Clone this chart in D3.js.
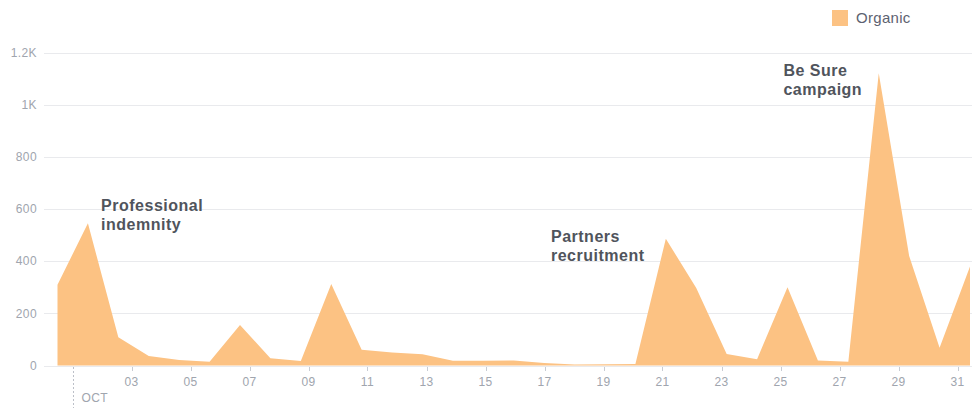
<!DOCTYPE html>
<html><head><meta charset="utf-8">
<script src="https://cdn.jsdelivr.net/npm/d3@7"></script>
<style>
html,body{margin:0;padding:0;background:#fff;}
svg{display:block;font-family:"Liberation Sans",Arial,sans-serif;}
</style></head>
<body>
<svg id="c" width="972" height="408"></svg>
<script>
// Daily organic reach, October (index 0 = first point)
const days = d3.range(1, 32);
const organic = [310, 545, 108, 36, 21, 14, 155, 28, 17, 312, 60, 50, 43, 18, 18, 19, 10, 4, 5, 6, 486, 297, 44, 24, 300, 19, 14, 1120, 420, 68, 380];
const yTicks = [0, 200, 400, 600, 800, 1000, 1200];
const yTickLabels = ["0", "200", "400", "600", "800", "1K", "1.2K"];
const xTickDays = [3, 5, 7, 9, 11, 13, 15, 17, 19, 21, 23, 25, 27, 29, 31];
const monthLabel = "OCT";
const seriesName = "Organic";
const annotations = [
  {day: 1.97, value: 615, lines: ["Professional", "indemnity"]},
  {day: 17.22, value: 496, lines: ["Partners", "recruitment"]},
  {day: 25.1, value: 1132, lines: ["Be Sure", "campaign"]}
];

const svg = d3.select("#c");
const W = 972, H = 408;
const y = d3.scaleLinear().domain([0, 1200]).range([365.5, 52.5]);
// axis (date) scale
const xAxis = d3.scaleLinear().domain([1, 31]).range([72.5, 957.5]);
// data points scale (points are offset from the date ticks in the source)
const xData = d3.scaleLinear().domain([0, organic.length - 1]).range([57.5, 970]);

// grid
const grid = svg.append("g");
grid.selectAll("line").data(yTicks).join("line")
  .attr("x1", 44).attr("x2", W)
  .attr("y1", d => Math.round(y(d)) + 0.5).attr("y2", d => Math.round(y(d)) + 0.5)
  .attr("stroke", "#e9eaed").attr("stroke-width", 1);
grid.selectAll("text").data(yTicks).join("text")
  .attr("x", 37).attr("y", d => y(d)).attr("dy", "0.35em")
  .attr("text-anchor", "end").attr("font-size", 12).attr("letter-spacing", 0.4)
  .attr("fill", "#a0a5ae")
  .text((d, i) => yTickLabels[i]);

// area
const area = d3.area()
  .x((d, i) => xData(i))
  .y0(y(0))
  .y1(d => y(d));
svg.append("path").datum(organic)
  .attr("d", area)
  .attr("fill", "#fcc283");

// x axis ticks
const xa = svg.append("g");
xa.selectAll("line").data(xTickDays).join("line")
  .attr("x1", d => Math.round(xAxis(d)) + 0.5).attr("x2", d => Math.round(xAxis(d)) + 0.5)
  .attr("y1", 367).attr("y2", 371)
  .attr("stroke", "#c8ccd3");
xa.selectAll("text").data(xTickDays).join("text")
  .attr("x", d => xAxis(d)).attr("y", 382).attr("dy", "0.35em")
  .attr("text-anchor", "middle").attr("font-size", 12).attr("letter-spacing", 0.4)
  .attr("fill", "#a0a5ae")
  .text(d => d3.format("02d")(d));

// month marker
svg.append("line")
  .attr("x1", Math.round(xAxis(1)) + 0.5).attr("x2", Math.round(xAxis(1)) + 0.5)
  .attr("y1", 367).attr("y2", 408)
  .attr("stroke", "#bcc0c8").attr("stroke-dasharray", "2,2");
svg.append("text")
  .attr("x", xAxis(1) + 9).attr("y", 398).attr("dy", "0.35em")
  .attr("font-size", 12).attr("letter-spacing", 0.4).attr("fill", "#a0a5ae").text(monthLabel);

// annotations
const ann = svg.append("g");
annotations.forEach(a => {
  const t = ann.append("text")
    .attr("x", xAxis(a.day)).attr("y", y(a.value))
    .attr("font-size", 16).attr("letter-spacing", 0.5)
    .attr("font-weight", "bold").attr("fill", "#50545c");
  a.lines.forEach((l, i) => {
    t.append("tspan").attr("x", xAxis(a.day)).attr("dy", i === 0 ? "0.35em" : 19).text(l);
  });
});

// legend
svg.append("rect").attr("x", 832).attr("y", 10).attr("width", 16).attr("height", 16)
  .attr("fill", "#fcc283");
svg.append("text").attr("x", 856).attr("y", 18).attr("dy", "0.35em")
  .attr("font-size", 15).attr("letter-spacing", 0.3).attr("fill", "#5d6270").text(seriesName);
</script>
</body></html>
